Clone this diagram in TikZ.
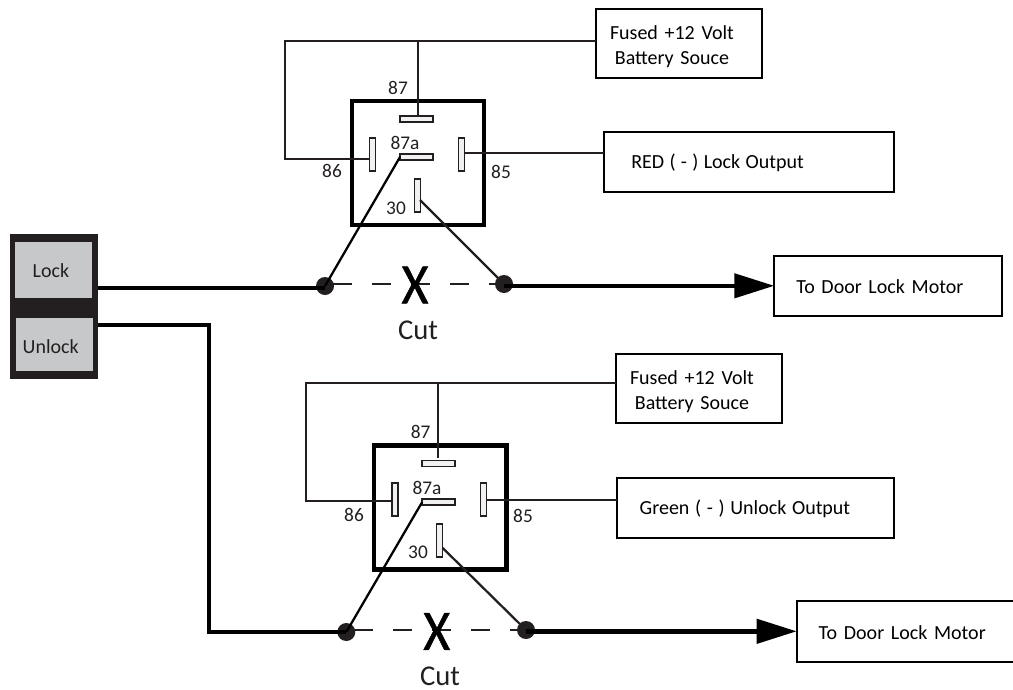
\documentclass[tikz,border=0pt]{standalone}
\usepackage{fontspec}
\setmainfont{Carlito}
\newfontfamily\xmarkfont[FakeStretch=0.9,FakeBold=0.9]{Carlito}
\usetikzlibrary{arrows.meta}
\definecolor{ink}{HTML}{231F20}
\definecolor{keygray}{HTML}{C7C8CA}
\definecolor{pinfill}{HTML}{F1F1F2}
\tikzset{
  x=.75pt,y=-.75pt,
  every node/.style={outer sep=0pt},
  size/.style 2 args={minimum width=#1*.75pt,minimum height=#2*.75pt},
  labelbox/.style={draw=black,line width=1.6pt,fill=white,inner sep=0pt,font=\fontsize{15}{18.7}\selectfont,align=left},
  relaybox/.style={draw=black,line width=3.4pt,inner sep=0pt},
  pin/.style={draw=ink,line width=1.1pt,fill=pinfill,inner sep=0pt},
  pinv/.style={pin,size={6}{33}},
  pinh/.style={pin,size={33}{6}},
  num/.style={font=\fontsize{14.5}{16}\selectfont,inner sep=0pt,text=ink},
  cuttext/.style={font=\fontsize{21.5}{24}\selectfont,inner sep=0pt,text=ink},
  xmark/.style={font=\xmarkfont\fontsize{43}{46}\selectfont,inner sep=0pt,text=black},
  thin wire/.style={draw=ink,line width=1.7pt},
  link/.style={draw=black,line width=1.7pt},
  thick wire/.style={draw=black,line width=3.3pt},
  cutline/.style={draw=ink,line width=1.2pt,dash pattern=on 14.25pt off 15pt,dash phase=23.25pt},
  dot/.style={circle,fill=ink,minimum size=13.5pt,inner sep=0pt},
  arrowwire/.style={thick wire,-{Triangle[length=30pt,width=18pt]}},
  keyframe/.style={fill=ink,inner sep=0pt},
  keycap/.style={fill=keygray,inner sep=0pt,font=\fontsize{15}{16}\selectfont,align=left,text=ink},
}
\begin{document}
\begin{tikzpicture}
\useasboundingbox (0,0) rectangle (1013,689);
% switch
\node[keyframe,size={88}{145}] (frame) at (54,306.5) {};
\node[keycap,size={76.7}{55.7},text width=41.3*.75pt,inner xsep=17.7*.75pt] (lock) at (53.3,269.8) {\rule{0pt}{12pt}Lock};
\node[keycap,size={77}{53},text width=63.6*.75pt,inner xsep=6.7*.75pt] (unlock) at (54.5,344.2) {\rule{0pt}{14pt}Unlock};
% relay 1
\node[relaybox,size={132}{124.3}] (relayA) at (418,163) {};
\node[pinh] (a87) at (416.5,119) {};
\node[pinv] (a86) at (372.7,154.5) {};
\node[pinv] (a85) at (461.7,154.5) {};
\node[pinh] (a87a) at (416.5,157) {};
\node[pinv] (a30) at (417.3,195.5) {};
\node[num] (la87) at (398,87.7) {87};
\node[num] (la87a) at (405,143.3) {87a};
\node[num] (la86) at (332,171) {86};
\node[num] (la85) at (501,172) {85};
\node[num] (la30) at (396,208) {30};
\node[labelbox,size={166}{68.7},text width=138*.75pt,inner xsep=14*.75pt] (fuseA) at (679,43.3) {\rule{0pt}{15pt}Fused +12 Volt\\\hspace*{3.7pt}Battery Souce};
\node[labelbox,size={289.7}{60.3},text width=235*.75pt,inner xsep=27.3*.75pt] (redbox) at (748.8,161.8) {\spaceskip=4pt\rule{0pt}{12.5pt}RED ( - ) Lock Output};
\node[labelbox,size={228}{60.3},text width=184*.75pt,inner xsep=22*.75pt] (doorA) at (888.3,285.8) {\rule{0pt}{12pt}To Door Lock Motor};
\coordinate (aj) at (417.7,41);
\coordinate (acl) at (285,41);
\coordinate (acb) at (285,159);
\coordinate (ap) at (420,200);
\node[dot] (adL) at (325,286) {};
\node[dot] (adR) at (504,284) {};
\draw[cutline] (adL.center |- adR.center) -- (adR.center);
\node[xmark] (ax) at (415,285) {X};
\node[cuttext] (acut) at (418,330) {Cut};
\path[thin wire] (fuseA.west |- aj) -- (aj) (aj) -- (acl) -- (acb) -- (a86.west |- acb);
\path[thin wire] (aj) -- (aj |- a87.north);
\path[thin wire] (a85.east |- 0,152.7) -- (redbox.west |- 0,152.7);
\path[link] (a87a.west) -- (adL.center);
\path[thin wire] (ap) -- (adR.center);
\coordinate (aw) at (98,287.7);
\path[thick wire] (aw) -- (aw -| adL.center);
\path[arrowwire] (adR.center |- doorA.west) -- (doorA.west);
% relay 2
\node[relaybox,size={132.7}{124}] (relayB) at (440.3,507.3) {};
\node[pinh] (b87) at (438.7,463.7) {};
\node[pinv] (b86) at (395,499.5) {};
\node[pinv] (b85) at (483.7,499.5) {};
\node[pinh] (b87a) at (438.7,502) {};
\node[pinv] (b30) at (439.3,540.5) {};
\node[num] (lb87) at (420.7,431.7) {87};
\node[num] (lb87a) at (427,487.7) {87a};
\node[num] (lb86) at (354,515) {86};
\node[num] (lb85) at (523,516) {85};
\node[num] (lb30) at (418,552) {30};
\node[labelbox,size={166}{69},text width=138*.75pt,inner xsep=14*.75pt] (fuseB) at (699,388.5) {\rule{0pt}{15pt}Fused +12 Volt\\\hspace*{3.7pt}Battery Souce};
\node[labelbox,size={277}{60},text width=231*.75pt,inner xsep=23*.75pt] (greenbox) at (755.2,508) {\spaceskip=4.25pt\rule{0pt}{12.5pt}Green ( - ) Unlock Output};
\node[labelbox,size={228}{60.7},text width=184*.75pt,inner xsep=22*.75pt] (doorB) at (910.7,631.3) {\rule{0pt}{12pt}To Door Lock Motor};
\coordinate (bj) at (438.3,383.3);
\coordinate (bcl) at (306,383.3);
\coordinate (bcb) at (306,501.3);
\coordinate (be) at (438.3,458);
\coordinate (bp) at (442.7,548);
\node[dot] (bdL) at (346.3,632) {};
\node[dot] (bdR) at (526,630) {};
\draw[cutline] (bdL.center |- bdR.center) -- (bdR.center);
\node[xmark] (bx) at (436.7,631.5) {X};
\node[cuttext] (bcut) at (440,676.5) {Cut};
\path[thin wire] (fuseB.west |- bj) -- (bj) (bj) -- (bcl) -- (bcb) -- (b86.west |- bcb);
\path[thin wire] (bj) -- (be);
\path[thin wire] (b85.east |- 0,500) -- (greenbox.west |- 0,500);
\path[link] (b87a.west) -- (bdL.center);
\path[thin wire] (bp) -- (bdR.center);
\coordinate (bw) at (98,325);
\coordinate (bk) at (209,325);
\path[thick wire] (bw) -- (bk) -- (bk |- bdL.center) -- (bdL.center);
\path[arrowwire] (bdR.center |- doorB.west) -- (doorB.west);
\end{tikzpicture}
\end{document}
